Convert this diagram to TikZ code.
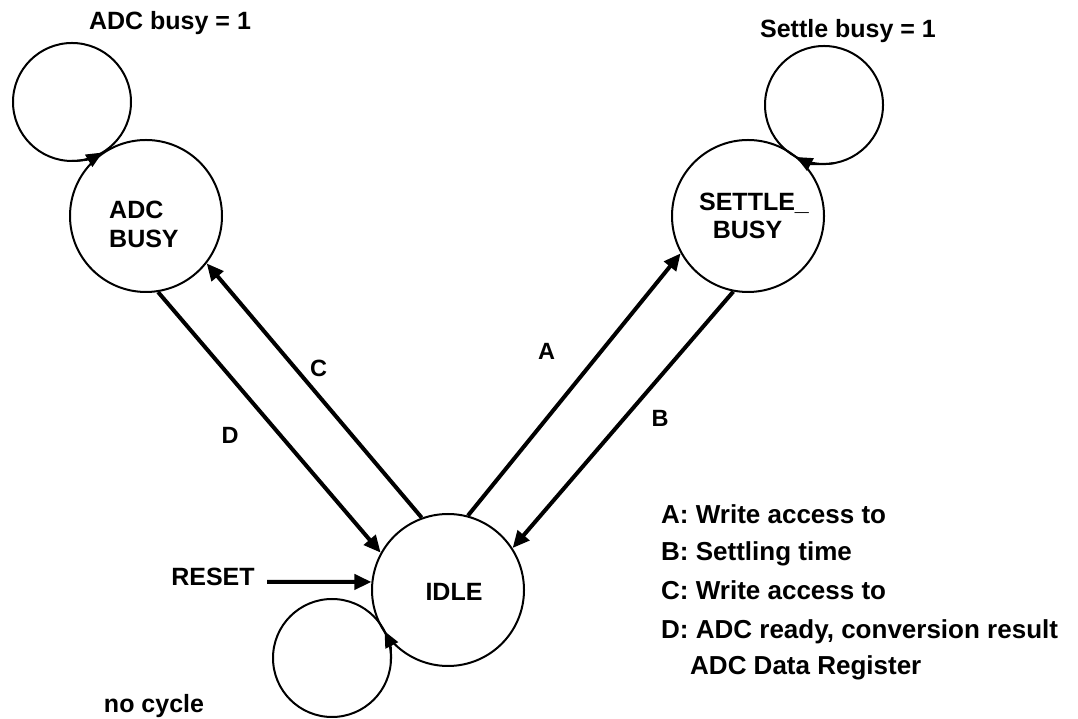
\documentclass[tikz,border=0pt]{standalone}
\usepackage{fontspec}
\setmainfont{Liberation Sans}
\usetikzlibrary{arrows.meta}
\begin{document}
\begin{tikzpicture}[x=1pt,y=1pt,
  state/.style={circle,draw,line width=2pt,minimum size=152pt,inner sep=0pt},
  loopc/.style={line width=2pt},
  trans/.style={line width=4pt,-{Triangle[length=17pt,width=15pt]}},
  looptip/.style={line width=2pt,-{Triangle[length=16pt,width=14pt]}},
  txt/.style={font=\fontsize{25}{30}\selectfont\bfseries,inner sep=0pt,anchor=base},
  lbl/.style={font=\fontsize{23.5}{28}\selectfont\bfseries,inner sep=0pt,anchor=base},
  leg/.style={font=\fontsize{26}{31}\selectfont\bfseries,inner sep=0pt,anchor=base west}]
\useasboundingbox (0,0) rectangle (1078,719);

% states
\node[state] (ADC) at (146,503) {};
\node[state] (SET) at (748,503) {};
\node[state] (IDLE) at (448,129) {};

% state texts
\node[txt,anchor=base west] (adct1) at (109,500.7) {ADC};
\node[txt,anchor=base west] (adct2) at (109,471.7) {BUSY};
\node[txt] (sett1) at (754,508.3) {SETTLE\_};
\node[txt] (sett2) at (747.5,480) {BUSY};
\node[txt] (idlet) at (454,118) {IDLE};

% self loops
\coordinate (ADCl) at (72,617);
\coordinate (SETl) at (824,614);
\coordinate (IDLEl) at (332,61);
\draw[loopc] (ADCl) circle[radius=59];
\draw[loopc] (SETl) circle[radius=59];
\draw[loopc] (IDLEl) circle[radius=59];
\draw[looptip] (ADCl) ++(-90:59) arc[start angle=-90, end angle=-59, radius=59];
\draw[looptip] (SETl) ++(280:59) arc[start angle=280, end angle=242, radius=59];
\draw[looptip] (IDLEl) ++(-5:59) arc[start angle=-5, end angle=27, radius=59];

% transitions
\draw[trans] (ADC.-81) -- (IDLE.151);
\draw[trans] (IDLE.110) -- (ADC.-38);
\draw[trans] (IDLE.75) -- (SET.209);
\draw[trans] (SET.-101) -- (IDLE.33);

% reset
\node[txt] (reset) at (213,133.3) {RESET};
\coordinate (rs) at (267,137);
\draw[trans] (rs) -- (IDLE.174);

% labels
\node[lbl] (lc) at (318.5,342.3) {C};
\node[lbl] (ld) at (230,275.7) {D};
\node[lbl] (la) at (546.5,359) {A};
\node[lbl] (lb) at (660,292) {B};

\node[txt] (adcbusy) at (170,689.5) {ADC busy = 1};
\node[txt] (setbusy) at (848,681.5) {Settle busy = 1};
\node[txt] (nocyc) at (154,6) {no cycle};

% legend
\node[leg] (lega) at (661,195.7) {A: Write access to};
\node[leg] (legb) at (661,158.3) {B: Settling time};
\node[leg] (legc) at (661,119.7) {C: Write access to};
\node[leg] (legd) at (661,80.7) {D: ADC ready, conversion result};
\node[leg] (lege) at (690,44.7) {ADC Data Register};
\end{tikzpicture}
\end{document}
